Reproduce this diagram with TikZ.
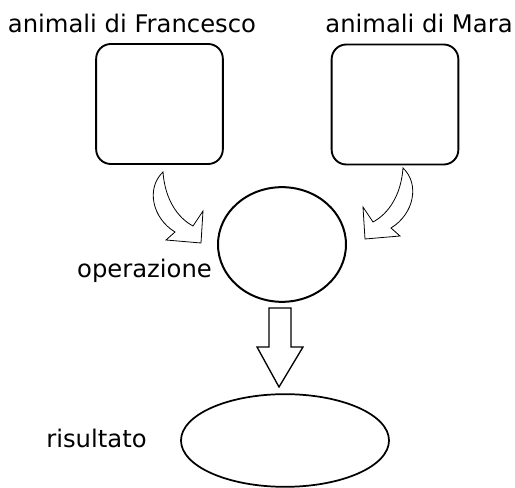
\documentclass[tikz,border=0pt]{standalone}
\usepackage{fontspec}
\setmainfont{DejaVu Sans}
\usetikzlibrary{shapes.geometric}
\tikzset{
  scheda/.style={draw,line width=1.4pt,rounded corners=11pt,minimum width=95pt,minimum height=90pt,inner sep=0pt},
  etichetta/.style={anchor=base,font=\fontsize{18.2}{20}\selectfont,inner sep=0pt},
  freccia/.style={line width=0.6pt,line join=miter}
}
\begin{document}
\begin{tikzpicture}[line cap=round,line join=round,x=0.75pt,y=-0.75pt]
\useasboundingbox (0,0) rectangle (515,488);
\node[scheda] (francesco) at (159.5,104) {};
\node[scheda] (mara) at (395,104.5) {};
\node[draw,ellipse,line width=1.5pt,minimum width=96pt,minimum height=86pt,inner sep=0pt] (operazione) at (282,244.5) {};
\node[draw,ellipse,line width=1.3pt,minimum width=156pt,minimum height=69.5pt,inner sep=0pt] (risultato) at (285,440.5) {};
\node[etichetta] (tfrancesco) at (132,33) {animali di Francesco};
\node[etichetta] (tmara) at (419,33) {animali di Mara};
\node[etichetta] (toperazione) at (144.5,278) {operazione};
\node[etichetta] (trisultato) at (96.5,448) {risultato};
% frecce curve
\draw[freccia] (163,172) .. controls (146,188) and (152,218) .. (175,232) -- (166,240) -- (201,243)
  -- (203,211) -- (193,226) .. controls (178,218) and (165,200) .. (163,172) -- cycle;
\draw[freccia] (403,168) .. controls (420,184) and (414,214) .. (391,228) -- (400,236) -- (365,239)
  -- (363,207) -- (373,222) .. controls (388,214) and (401,196) .. (403,168) -- cycle;
% freccia verso il basso
\draw[line width=1pt,line join=miter] (269,308) -- (291,308) -- (291,347) -- (303,347) -- (279,387)
  -- (257,347) -- (269,347) -- cycle;
\end{tikzpicture}
\end{document}
